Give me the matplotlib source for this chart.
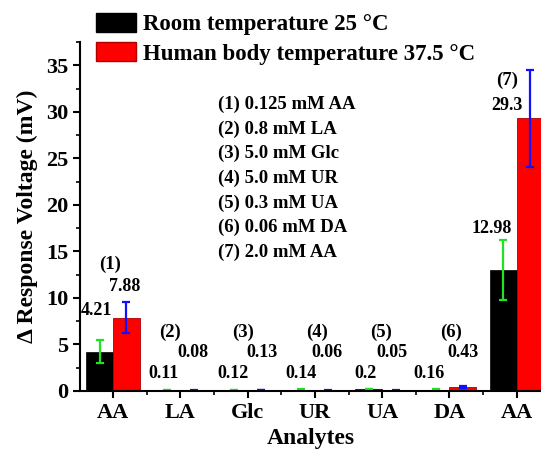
import matplotlib
matplotlib.use("Agg")
import matplotlib.pyplot as plt
import numpy as np
from matplotlib.patches import Patch
from matplotlib.ticker import MultipleLocator

plt.rcParams['font.family'] = ['Liberation Serif', 'DejaVu Serif']
plt.rcParams['font.weight'] = 'bold'
plt.rcParams['axes.labelweight'] = 'bold'

# data
analytes = ['AA', 'LA', 'Glc', 'UR', 'UA', 'DA', 'AA']
room = [4.21, 0.11, 0.12, 0.14, 0.2, 0.16, 12.98]
room_err = [1.25, 0.03, 0.03, 0.03, 0.03, 0.03, 3.2]
body = [7.88, 0.08, 0.13, 0.06, 0.05, 0.43, 29.3]
body_err = [1.68, 0.03, 0.03, 0.03, 0.03, 0.08, 5.22]
tags = ['(1)', '(2)', '(3)', '(4)', '(5)', '(6)', '(7)']
notes = ['(1) 0.125 mM AA', '(2) 0.8 mM LA', '(3) 5.0 mM Glc', '(4) 5.0 mM UR',
         '(5) 0.3 mM UA', '(6) 0.06 mM DA', '(7) 2.0 mM AA']

# label placement (offset from group centre, height in mV)
tag_pos = [(-0.045, 13.6), (-0.15, 6.3), (-0.06, 6.3), (0.03, 6.3), (-0.01, 6.3), (0.03, 6.3), (-0.14, 33.4)]
room_lbl = [(-0.24, 8.7), (-0.25, 1.9), (-0.22, 1.9), (-0.2, 1.9), (-0.25, 1.9), (-0.3, 1.9), (-0.37, 17.5)]
body_lbl = [(0.18, 11.2), (0.19, 4.1), (0.21, 4.1), (0.18, 4.1), (0.15, 4.1), (0.2, 4.1), (-0.14, 30.7)]

fig = plt.figure(figsize=(5.41, 4.55), dpi=100)
ax = fig.add_axes([80 / 541, 1 - 391 / 455, 461 / 541, 349 / 455])

x = np.arange(len(analytes))
w = 0.4
ax.bar(x - w / 2, room, w, color='black', edgecolor='black', linewidth=0.5)
ax.bar(x + w / 2, body, w, color='#ff0000', edgecolor='#b00000', linewidth=0.6)
ax.errorbar(x - w / 2, room, yerr=room_err, fmt='none', ecolor='#22e022',
            elinewidth=1.6, capsize=3.2, capthick=1.6)
ax.errorbar(x + w / 2, body, yerr=body_err, fmt='none', ecolor='#1010ff',
            elinewidth=1.6, capsize=3.2, capthick=1.6)

for i in range(len(analytes)):
    ax.text(i + tag_pos[i][0], tag_pos[i][1], tags[i], ha='center', va='center', fontsize=13.5)
    ax.text(i + room_lbl[i][0], room_lbl[i][1], f'{room[i]:g}', ha='center', va='center', fontsize=13)
    ax.text(i + body_lbl[i][0], body_lbl[i][1], f'{body[i]:g}', ha='center', va='center', fontsize=13)

for k, line in enumerate(notes):
    ax.text(1.56, 30.8 - k * 2.65, line, ha='left', va='center', fontsize=13.5)

ax.set_xlim(-0.49, 6.36)
ax.set_ylim(0, 37.5)
ax.set_xticks(x)
ax.set_xticklabels(analytes)
ax.xaxis.set_minor_locator(MultipleLocator(1, offset=0.5))
ax.yaxis.set_major_locator(MultipleLocator(5))
ax.yaxis.set_minor_locator(MultipleLocator(2.5))
ax.tick_params(axis='both', which='major', labelsize=16, direction='out', length=5, width=1.5)
ax.tick_params(axis='both', which='minor', direction='out', length=3, width=1.2)
ax.set_xlabel('Analytes', fontsize=17, labelpad=4)
ax.set_ylabel('Δ Response Voltage (mV)', fontsize=17, labelpad=6)
for s in ['top', 'right']:
    ax.spines[s].set_visible(False)
for s in ['left', 'bottom']:
    ax.spines[s].set_linewidth(1.5)

handles = [Patch(facecolor='black', edgecolor='black'),
           Patch(facecolor='#ff0000', edgecolor='#b00000')]
fig.legend(handles, ['Room temperature 25 °C', 'Human body temperature 37.5 °C'],
           loc='upper left', bbox_to_anchor=(96 / 541, 1 - 13 / 455), frameon=False,
           fontsize=16.5, borderpad=0, borderaxespad=0, handlelength=1.75,
           handleheight=0.9, handletextpad=0.3, labelspacing=0.3)

fig.savefig('out.png', dpi=100)
